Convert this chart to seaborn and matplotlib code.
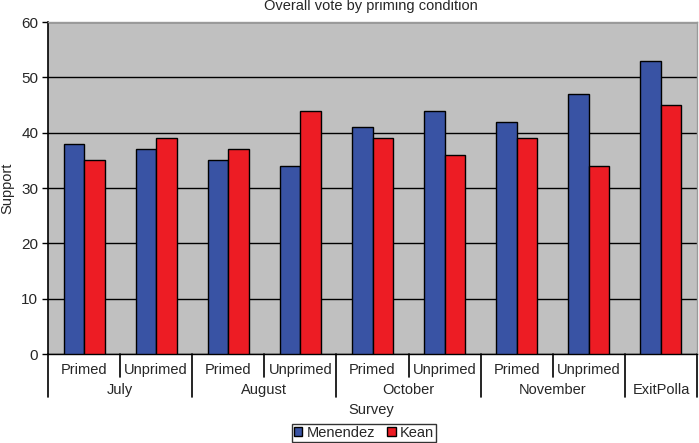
import pandas as pd
import matplotlib.pyplot as plt
import matplotlib.transforms as mtransforms
from matplotlib.patches import Patch
import seaborn as sns

# data
months = ["July", "July", "August", "August", "October", "October",
          "November", "November", "ExitPolla"]
conditions = ["Primed", "Unprimed", "Primed", "Unprimed", "Primed", "Unprimed",
              "Primed", "Unprimed", ""]
menendez = [38, 37, 35, 34, 41, 44, 42, 47, 53]
kean = [35, 39, 37, 44, 39, 36, 39, 34, 45]
month_order = ["July", "August", "October", "November", "ExitPolla"]

BLUE = "#3953A4"
RED = "#ED1C24"


def build_frame():
    cats = [f"{m} {c}".strip() for m, c in zip(months, conditions)]
    rows = []
    for cat, m, k in zip(cats, menendez, kean):
        rows.append({"cat": cat, "cand": "Menendez", "support": m})
        rows.append({"cat": cat, "cand": "Kean", "support": k})
    return pd.DataFrame(rows), cats


def main():
    df, cats = build_frame()

    sns.set_style("white")
    plt.rcParams["font.family"] = ["Liberation Sans", "DejaVu Sans"]

    fig = plt.figure(figsize=(6.99, 4.43), dpi=100)
    W, H = 699, 443
    ax = fig.add_axes([48 / W, (H - 354) / H, 649 / W, 332 / H])
    ax.set_facecolor("#C0C0C0")

    sns.barplot(data=df, x="cat", y="support", hue="cand", order=cats,
                hue_order=["Menendez", "Kean"], palette=[BLUE, RED],
                width=0.57, edgecolor="black", linewidth=1, saturation=1,
                legend=False, ax=ax, zorder=3)

    ax.set_ylim(0, 60)
    ax.set_xlim(-0.5, len(cats) - 0.5)
    ax.set_yticks(range(0, 61, 10))
    ax.yaxis.grid(True, color="black", linewidth=1)
    ax.set_axisbelow(True)
    ax.tick_params(axis="y", direction="out", length=4, width=1, color="black",
                   labelsize=11, pad=3, left=True)
    ax.set_xticks([])
    ax.set_xlabel("")
    ax.set_ylabel("Support", fontsize=10.5, labelpad=5)

    for side in ["top", "right"]:
        ax.spines[side].set_color("#9A9A9A")
        ax.spines[side].set_linewidth(1)
    ax.spines["left"].set_color("black")
    ax.spines["left"].set_linewidth(1.2)
    ax.spines["bottom"].set_color("black")
    ax.spines["bottom"].set_linewidth(1)

    # two-level category axis drawn under the plot
    trans = mtransforms.blended_transform_factory(ax.transData, ax.transAxes)
    ph = 332.0
    row1_end = -23 / ph
    row2_end = -43 / ph
    for i, c in enumerate(conditions):
        if c:
            ax.text(i, -16 / ph, c, transform=trans, ha="center", va="center",
                    fontsize=10.5)
    for i in range(len(cats) - 1):
        x = i + 0.5
        outer = months[i] != months[i + 1]
        ax.plot([x, x], [0, row2_end if outer else row1_end], transform=trans,
                color="black", linewidth=1.2, clip_on=False)
    for x in (-0.5, len(cats) - 0.5):
        ax.plot([x, x], [0, row2_end], transform=trans, color="black",
                linewidth=1.2, clip_on=False)
    for m in month_order:
        idx = [i for i, mm in enumerate(months) if mm == m]
        centre = (idx[0] + idx[-1]) / 2
        ax.text(centre, -36 / ph, m, transform=trans, ha="center",
                va="center", fontsize=10.5)

    fig.text(371 / W, 1 - 410 / H, "Survey", ha="center", va="center",
             fontsize=10.5)
    fig.text(371 / W, 1 - 6 / H, "Overall vote by priming condition",
             ha="center", va="center", fontsize=10.5)

    handles = [Patch(facecolor=BLUE, edgecolor="black", label="Menendez"),
               Patch(facecolor=RED, edgecolor="black", label="Kean")]
    leg = fig.legend(handles=handles, loc="center", ncol=2,
                     bbox_to_anchor=(364 / W, 1 - 433 / H), fontsize=10.5,
                     frameon=True, fancybox=False, handlelength=0.6,
                     handleheight=0.6, handletextpad=0.3, columnspacing=0.8,
                     borderpad=0.15, borderaxespad=0)
    leg.get_frame().set_edgecolor("black")
    leg.get_frame().set_linewidth(1)

    fig.savefig("out.png", dpi=100)


if __name__ == "__main__":
    main()
